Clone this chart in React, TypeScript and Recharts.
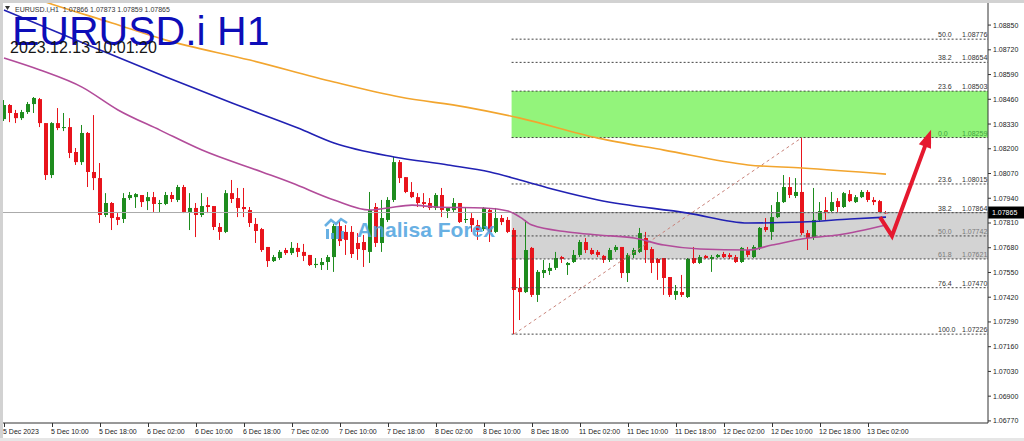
import { Bar, ComposedChart, Line, ReferenceArea, ReferenceLine, XAxis, YAxis } from 'recharts';

const FONT = '"Liberation Sans", Arial, sans-serif';
const UP = '#1e8c1e';
const DOWN = '#e8141c';

// H1 bars, bar 0 = 5 Dec 02:00
const tickBars = [0, 8, 16, 24, 32, 40, 48, 56, 64, 72, 80, 88, 96, 104, 112, 120, 128, 136, 144];
const tickLabels = ['5 Dec 2023', '5 Dec 10:00', '5 Dec 18:00', '6 Dec 02:00', '6 Dec 10:00', '6 Dec 18:00', '7 Dec 02:00', '7 Dec 10:00', '7 Dec 18:00', '8 Dec 02:00', '8 Dec 10:00', '8 Dec 18:00', '11 Dec 02:00', '11 Dec 10:00', '11 Dec 18:00', '12 Dec 02:00', '12 Dec 10:00', '12 Dec 18:00', '13 Dec 02:00'];
const priceTicks = [1.0677, 1.069, 1.0703, 1.0716, 1.0729, 1.0742, 1.0755, 1.0768, 1.0781, 1.0794, 1.0807, 1.082, 1.0833, 1.0846, 1.0859, 1.0872, 1.0885];

const opens = [
  1.08356, 1.08430, 1.08388, 1.08361, 1.08393, 1.08435, 1.08461, 1.08335, 1.08062, 1.08335,
  1.08309, 1.08314, 1.08183, 1.08130, 1.08283, 1.08078, 1.08046, 1.07852, 1.07915, 1.07841,
  1.07831, 1.07941, 1.07946, 1.07957, 1.07925, 1.07946, 1.07912, 1.07910, 1.07957, 1.07931,
  1.07999, 1.07868, 1.07889, 1.07852, 1.07904, 1.07899, 1.07789, 1.07763, 1.07967, 1.07941,
  1.07894, 1.07878, 1.07805, 1.07778, 1.07684, 1.07610, 1.07626, 1.07668, 1.07652, 1.07679,
  1.07658, 1.07642, 1.07589, 1.07589, 1.07605, 1.07631, 1.07794, 1.07763, 1.07763, 1.07705,
  1.07710, 1.07658, 1.07894, 1.07705, 1.07826, 1.07931, 1.08130, 1.08051, 1.07973, 1.07946,
  1.07920, 1.07915, 1.07889, 1.07957, 1.07873, 1.07878, 1.07915, 1.07826, 1.07836, 1.07799,
  1.07778, 1.07878, 1.07763, 1.07836, 1.07826, 1.07773, 1.07469, 1.07447, 1.07679, 1.07432,
  1.07547, 1.07558, 1.07574, 1.07631, 1.07589, 1.07605, 1.07642, 1.07710, 1.07668, 1.07658,
  1.07637, 1.07616, 1.07668, 1.07684, 1.07547, 1.07642, 1.07658, 1.07731, 1.07673, 1.07621,
  1.07626, 1.07526, 1.07432, 1.07447, 1.07421, 1.07626, 1.07600, 1.07637, 1.07621, 1.07631,
  1.07647, 1.07642, 1.07631, 1.07605, 1.07668, 1.07631, 1.07679, 1.07789, 1.07763, 1.07841,
  1.07920, 1.07999, 1.07952, 1.07973, 1.07757, 1.07736, 1.07826, 1.07878, 1.07873, 1.07925,
  1.07894, 1.07962, 1.07920, 1.07946, 1.07973, 1.07931, 1.07925, 1.07866,
];
const highs = [
  1.08456, 1.08435, 1.08404, 1.08404, 1.08446, 1.08472, 1.08467, 1.08335, 1.08340, 1.08414,
  1.08388, 1.08361, 1.08204, 1.08325, 1.08288, 1.08377, 1.08125, 1.07967, 1.07920, 1.07862,
  1.07967, 1.07973, 1.07967, 1.07957, 1.07973, 1.07973, 1.07931, 1.07973, 1.07973, 1.08010,
  1.08010, 1.07967, 1.07915, 1.07967, 1.07946, 1.07899, 1.07810, 1.07983, 1.08036, 1.07994,
  1.07994, 1.07894, 1.07836, 1.07784, 1.07684, 1.07642, 1.07668, 1.07679, 1.07710, 1.07705,
  1.07700, 1.07642, 1.07626, 1.07626, 1.07642, 1.07805, 1.07820, 1.07799, 1.07794, 1.07757,
  1.07747, 1.07973, 1.07915, 1.07931, 1.07946, 1.08157, 1.08141, 1.08051, 1.08025, 1.07967,
  1.07967, 1.07941, 1.07967, 1.07994, 1.07894, 1.07941, 1.07915, 1.07889, 1.07862, 1.07826,
  1.07894, 1.07889, 1.07889, 1.07852, 1.07841, 1.07784, 1.07521, 1.07826, 1.07684, 1.07563,
  1.07616, 1.07600, 1.07658, 1.07637, 1.07605, 1.07668, 1.07721, 1.07731, 1.07679, 1.07668,
  1.07642, 1.07679, 1.07694, 1.07684, 1.07652, 1.07679, 1.07784, 1.07763, 1.07684, 1.07626,
  1.07626, 1.07526, 1.07484, 1.07537, 1.07626, 1.07684, 1.07642, 1.07642, 1.07642, 1.07647,
  1.07658, 1.07652, 1.07642, 1.07684, 1.07684, 1.07694, 1.07789, 1.07836, 1.07904, 1.07973,
  1.08062, 1.08051, 1.08046, 1.08259, 1.07773, 1.07994, 1.07920, 1.07946, 1.07973, 1.07941,
  1.07973, 1.07983, 1.07957, 1.07983, 1.07983, 1.07946, 1.07931, 1.07873,
];
const lows = [
  1.08346, 1.08340, 1.08335, 1.08351, 1.08383, 1.08388, 1.08314, 1.08036, 1.08046, 1.08298,
  1.08293, 1.08151, 1.08115, 1.08115, 1.07999, 1.07983, 1.07810, 1.07841, 1.07773, 1.07799,
  1.07810, 1.07931, 1.07889, 1.07894, 1.07878, 1.07868, 1.07868, 1.07904, 1.07920, 1.07920,
  1.07862, 1.07773, 1.07736, 1.07841, 1.07862, 1.07773, 1.07721, 1.07757, 1.07915, 1.07841,
  1.07841, 1.07789, 1.07705, 1.07658, 1.07579, 1.07605, 1.07616, 1.07642, 1.07642, 1.07631,
  1.07610, 1.07584, 1.07574, 1.07563, 1.07563, 1.07553, 1.07689, 1.07642, 1.07626, 1.07616,
  1.07579, 1.07600, 1.07684, 1.07658, 1.07815, 1.07920, 1.08020, 1.07967, 1.07941, 1.07894,
  1.07889, 1.07878, 1.07878, 1.07841, 1.07836, 1.07868, 1.07810, 1.07810, 1.07763, 1.07721,
  1.07768, 1.07710, 1.07757, 1.07799, 1.07757, 1.07226, 1.07300, 1.07442, 1.07421, 1.07395,
  1.07521, 1.07537, 1.07563, 1.07600, 1.07537, 1.07600, 1.07631, 1.07652, 1.07642, 1.07631,
  1.07600, 1.07605, 1.07658, 1.07521, 1.07500, 1.07626, 1.07652, 1.07600, 1.07547, 1.07511,
  1.07432, 1.07421, 1.07406, 1.07421, 1.07416, 1.07595, 1.07595, 1.07621, 1.07553, 1.07626,
  1.07626, 1.07621, 1.07600, 1.07600, 1.07631, 1.07626, 1.07668, 1.07763, 1.07721, 1.07836,
  1.07915, 1.07941, 1.07941, 1.07747, 1.07668, 1.07721, 1.07815, 1.07826, 1.07862, 1.07868,
  1.07889, 1.07920, 1.07915, 1.07941, 1.07920, 1.07904, 1.07862, 1.07859,
];
const closes = [
  1.08430, 1.08388, 1.08361, 1.08393, 1.08435, 1.08467, 1.08335, 1.08062, 1.08335, 1.08309,
  1.08314, 1.08178, 1.08130, 1.08283, 1.08078, 1.08046, 1.07852, 1.07915, 1.07836, 1.07826,
  1.07941, 1.07957, 1.07962, 1.07920, 1.07946, 1.07910, 1.07915, 1.07957, 1.07936, 1.07999,
  1.07868, 1.07889, 1.07852, 1.07899, 1.07894, 1.07789, 1.07763, 1.07967, 1.07936, 1.07889,
  1.07883, 1.07810, 1.07768, 1.07668, 1.07610, 1.07631, 1.07658, 1.07652, 1.07679, 1.07658,
  1.07637, 1.07589, 1.07595, 1.07605, 1.07631, 1.07794, 1.07715, 1.07721, 1.07647, 1.07673,
  1.07668, 1.07878, 1.07705, 1.07836, 1.07931, 1.08130, 1.08046, 1.07973, 1.07946, 1.07915,
  1.07910, 1.07889, 1.07957, 1.07878, 1.07889, 1.07915, 1.07815, 1.07831, 1.07799, 1.07773,
  1.07889, 1.07763, 1.07836, 1.07815, 1.07763, 1.07458, 1.07447, 1.07668, 1.07432, 1.07553,
  1.07563, 1.07574, 1.07626, 1.07621, 1.07600, 1.07642, 1.07710, 1.07668, 1.07647, 1.07642,
  1.07616, 1.07668, 1.07684, 1.07547, 1.07642, 1.07668, 1.07757, 1.07668, 1.07600, 1.07600,
  1.07521, 1.07432, 1.07453, 1.07432, 1.07621, 1.07600, 1.07631, 1.07626, 1.07631, 1.07642,
  1.07631, 1.07631, 1.07605, 1.07679, 1.07642, 1.07684, 1.07784, 1.07773, 1.07841, 1.07920,
  1.07999, 1.07957, 1.07973, 1.07757, 1.07731, 1.07826, 1.07873, 1.07868, 1.07920, 1.07894,
  1.07967, 1.07925, 1.07946, 1.07973, 1.07931, 1.07920, 1.07866, 1.07865,
];

// moving averages, [bar, price]
const maSlow = [[0, 1.09044], [8, 1.0896], [18, 1.08861], [27, 1.08771], [41, 1.08666], [55, 1.08551], [66, 1.08472], [77, 1.08419], [86, 1.08361], [99, 1.08256], [110, 1.08193], [124, 1.08115], [133, 1.08099], [147, 1.08067]];
const maMid = [[0, 1.08929], [16, 1.08719], [27, 1.08577], [38, 1.0844], [49, 1.08309], [55, 1.0823], [65, 1.08157], [74, 1.08115], [81, 1.08078], [86, 1.08036], [92, 1.07983], [99, 1.07931], [114, 1.07862], [124, 1.0781], [133, 1.07815], [141, 1.07831], [147, 1.07841]];
const maFast = [[0, 1.08677], [6, 1.08614], [13, 1.08524], [19, 1.08404], [26, 1.08298], [33, 1.08193], [43, 1.08078], [48, 1.0802], [55, 1.07931], [61, 1.07878], [64, 1.07889], [68, 1.07904], [72, 1.07894], [80, 1.07889], [84, 1.07873], [86, 1.07841], [88, 1.07799], [94, 1.07763], [99, 1.07747], [105, 1.07731], [110, 1.07694], [116, 1.07673], [124, 1.07668], [128, 1.07694], [134, 1.07731], [139, 1.07747], [147, 1.07799]];
const arrowPath = [[146, 1.07841], [148, 1.07742], [154, 1.08256]];

const fibLevels = ['50.0', '38.2', '23.6', '0.0', '23.6', '38.2', '50.0', '61.8', '76.4', '100.0'];
const fibPrices = [1.08776, 1.08654, 1.08503, 1.08259, 1.08015, 1.07864, 1.07742, 1.07621, 1.0747, 1.07226];
const supplyZone = [1.08259, 1.08503];
const demandZone = [1.07621, 1.07864];
const swingLow = [85, 1.07226];
const swingHigh = [133, 1.08259];
const lastPrice = 1.07865;

const rows = new Map<number, any>();
opens.forEach((o, i) => rows.set(i, { i, o, h: highs[i], l: lows[i], c: closes[i] }));
const put = (pts: number[][], key: string) => pts.forEach(([i, v]) => {
  const r = rows.get(i) ?? { i };
  r[key] = v;
  rows.set(i, r);
});
put(maSlow, 'slow');
put(maMid, 'mid');
put(maFast, 'fast');
put(arrowPath, 'arrow');
const data = [...rows.values()].sort((a, b) => a.i - b.i);

function Candle(props: any) {
  const { x, y, width, height, payload } = props;
  if (!payload || payload.o == null || !(height > 0)) return null;
  const { o, h, l, c } = payload;
  const k = height / (h - l);
  const yo = y + (h - o) * k;
  const yc = y + (h - c) * k;
  const color = c >= o ? UP : DOWN;
  const bx = Math.round(x);
  const wx = bx + 1.5;
  return (
    <g>
      <line x1={wx} x2={wx} y1={y} y2={y + height} stroke={color} strokeWidth={1}/>
      <rect x={bx} y={Math.min(yo, yc)} width={4} height={Math.max(1, Math.abs(yc - yo))} fill={color}/>
    </g>
  );
}

function TimeTick({ x, y, payload }: any) {
  const n = tickBars.indexOf(payload.value);
  if (n < 0) return null;
  return (
    <g>
      <line x1={x + 0.5} x2={x + 0.5} y1={y} y2={y + 4} stroke="#333"/>
      <text x={x - 1} y={y + 11} fontSize={7} fontFamily={FONT} fill="#222">{tickLabels[n]}</text>
    </g>
  );
}

function PriceTick({ x, y, payload }: any) {
  return (
    <g>
      <line x1={x} x2={x + 3} y1={y} y2={y} stroke="#333"/>
      <text x={x + 5} y={y + 2.5} fontSize={7} fontFamily={FONT} fill="#222">{payload.value.toFixed(5)}</text>
    </g>
  );
}

function FibLabel({ viewBox, level, price }: any) {
  if (!viewBox) return null;
  const right = viewBox.x + viewBox.width;
  let fill = '#333';
  if (level === '0.0') fill = '#3fa23f';
  else if (price >= demandZone[0] && price < demandZone[1]) fill = '#7a7a7a';
  return (
    <g fontFamily={FONT} fontSize={7} fill={fill}>
      <text x={right - 50} y={viewBox.y - 2}>{level}</text>
      <text x={right - 26} y={viewBox.y - 2}>{price.toFixed(5)}</text>
    </g>
  );
}

function PriceTag({ viewBox, price }: any) {
  if (!viewBox) return null;
  const x = viewBox.x + viewBox.width;
  return (
    <g>
      <rect x={x} y={viewBox.y - 6} width={36} height={12} fill="#000"/>
      <text x={x + 4} y={viewBox.y + 2.5} fontSize={7} fontFamily={FONT} fill="#fff">{price.toFixed(5)}</text>
    </g>
  );
}

function ArrowHead(props: any) {
  const { cx, cy, payload } = props;
  if (!payload || payload.i !== arrowPath[arrowPath.length - 1][0] || cx == null) return null;
  return (
    <polygon points="9,0 -9,-6.5 -9,6.5" fill="#e5192f" transform={`translate(${cx},${cy}) rotate(-70)`}/>
  );
}

export default function App() {
  return (
    <div style={{ position: 'absolute', left: 0, top: 0, width: 1024, height: 441, background: '#fff', overflow: 'hidden' }}>
      <ComposedChart width={1024} height={441} data={data} margin={{ top: 3, right: 0, bottom: 0, left: 1 }}>
        <XAxis dataKey="i" type="number" domain={[-0.5, 164]} allowDataOverflow ticks={tickBars} interval={0}
          tickSize={0} tickMargin={0} tickLine={false} axisLine={{ stroke: '#333' }} height={18} tick={<TimeTick/>}/>
        <YAxis orientation="right" width={36} type="number" domain={[1.06759, 1.08966]} allowDataOverflow ticks={priceTicks}
          interval={0} tickSize={0} tickMargin={0} tickLine={false} axisLine={{ stroke: '#333' }} tick={<PriceTick/>}/>
        <ReferenceArea x1={84.6} y1={supplyZone[0]} y2={supplyZone[1]} fill="#93f47b" fillOpacity={1} stroke="none"/>
        <ReferenceArea x1={84.6} y1={demandZone[0]} y2={demandZone[1]} fill="#d3d3d3" fillOpacity={1} stroke="none"/>
        <ReferenceLine y={lastPrice} stroke="#aaaaaa" label={<PriceTag price={lastPrice}/>}/>
        {fibPrices.map((p, k) => (
          <ReferenceLine key={`fib${k}`} segment={[{ x: 84.6, y: p }, { x: 164, y: p }]} stroke="#444" strokeDasharray="2 2"
            label={<FibLabel level={fibLevels[k]} price={p}/>}/>
        ))}
        <ReferenceLine segment={[{ x: swingLow[0], y: swingLow[1] }, { x: swingHigh[0], y: swingHigh[1] }]} stroke="#c9837a" strokeDasharray="3 3"/>
        <Bar dataKey={(d: any) => (d.o == null ? null : [d.l, d.h])} barSize={4} shape={<Candle/>} isAnimationActive={false}/>
        <Line dataKey="slow" type="monotone" stroke="#f2a52e" strokeWidth={1.6} dot={false} activeDot={false} connectNulls isAnimationActive={false}/>
        <Line dataKey="mid" type="monotone" stroke="#2121b3" strokeWidth={1.6} dot={false} activeDot={false} connectNulls isAnimationActive={false}/>
        <Line dataKey="fast" type="monotone" stroke="#b24c9a" strokeWidth={1.6} dot={false} activeDot={false} connectNulls isAnimationActive={false}/>
        <Line dataKey="arrow" type="linear" stroke="#e5192f" strokeWidth={4} strokeLinejoin="miter" dot={<ArrowHead/>} activeDot={false}
          connectNulls isAnimationActive={false}/>
      </ComposedChart>

      <svg width={1024} height={441} style={{ position: 'absolute', left: 0, top: 0, pointerEvents: 'none' }}>
        <rect x={0} y={0} width={1024} height={3} fill="#d2d2d2"/>
        <rect x={0} y={0} width={3} height={441} fill="#d2d2d2"/>
        <rect x={0} y={438} width={1024} height={3} fill="#e6e6e6"/>
        <polygon points="5,6 10,6 7.5,10" fill="#333"/>
        <text x={15} y={12} fontSize={7} fontFamily={FONT} fill="#333" xmlSpace="preserve">EURUSD.i,H1  1.07866 1.07873 1.07859 1.07865</text>
        <text x={12} y={45} fontSize={41} fontFamily={FONT} fill="#0d0db8">EURUSD.i H1</text>
        <text x={10} y={53} fontSize={16} fontFamily={FONT} fill="#161616">2023.12.13 10:01:20</text>
        <g fill="#4ea3df" opacity={0.85}>
          <rect x={326} y={229} width={3} height={10}/>
          <rect x={331} y={233} width={3} height={6}/>
          <rect x={336} y={226} width={3} height={13}/>
          <rect x={341} y={231} width={3} height={8}/>
          <polyline points="325,226 331,220 336,224 341,219 347,223" fill="none" stroke="#4ea3df" strokeWidth={2.5}/>
          <text x={357} y={237} fontSize={21} fontWeight="bold" fontFamily={FONT} textLength={138}>Analisa Forex</text>
        </g>
      </svg>
    </div>
  );
}
